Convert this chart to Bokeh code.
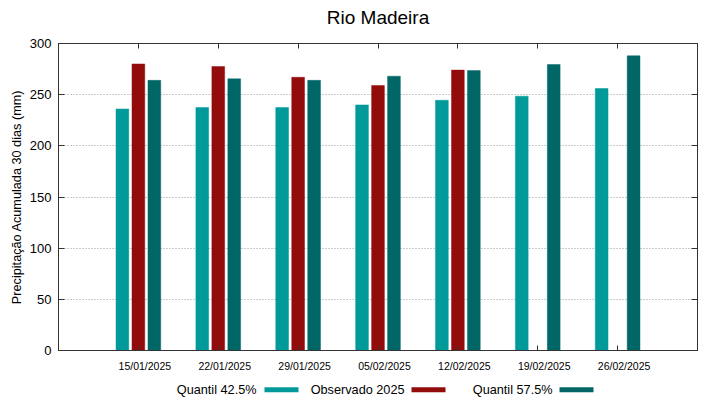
from bokeh.plotting import figure
from bokeh.layouts import column
from bokeh.models import (ColumnDataSource, Range1d, LinearAxis, FixedTicker)
from bokeh.core.properties import value
from bokeh.transform import dodge
from bokeh.embed import file_html
from bokeh.resources import INLINE

# ---- data ----
dates = ["15/01/2025", "22/01/2025", "29/01/2025", "05/02/2025",
         "12/02/2025", "19/02/2025", "26/02/2025"]
quantil_425 = [236, 237.5, 237.5, 240, 244.5, 248.5, 256]
observado_2025 = [280, 277.5, 267, 259, 274, float("nan"), float("nan")]
quantil_575 = [264, 265.5, 264, 268, 273.5, 279.5, 288]
y_ticks = [0, 50, 100, 150, 200, 250, 300]
series_labels = ["Quantil 42.5%", "Observado 2025", "Quantil 57.5%"]
series_colors = ["#009a9a", "#930c0c", "#006766"]
title_text = "Rio Madeira"

FONT = "Liberation Sans"
FRAME = "#333333"
W = 719
FL, FR = 58, 697          # frame left / right in page pixels
T_H, P_H, L_H = 36, 339, 24  # title strip, plot, legend strip heights

pos = list(range(len(dates)))          # category positions on the x scale
source = ColumnDataSource(dict(x=pos, date=dates, q425=quantil_425,
                               obs=observado_2025, q575=quantil_575))


def strip(height):
    f = figure(width=W, height=height, x_range=Range1d(FL, FR),
               y_range=Range1d(0, height), min_border_left=FL,
               min_border_right=W - FR, min_border_top=0, min_border_bottom=0,
               x_axis_location=None, y_axis_location=None, toolbar_location=None,
               output_backend="svg", outline_line_color=None)
    f.title = None
    f.grid.visible = False
    return f


# ---- title strip ----
tfig = strip(T_H)
tfig.text(x=[(FL + FR) / 2], y=[T_H - 16.5], text=[title_text], text_align="center",
          text_baseline="alphabetic", text_font=value(FONT), text_font_size="19px",
          text_color="#000000")

# ---- main plot ----
p = figure(x_range=Range1d(-1, len(dates)), y_range=Range1d(0, 300),
           width=W, height=P_H, output_backend="svg", toolbar_location=None,
           min_border_left=FL, min_border_right=W - FR, min_border_top=43 - T_H,
           min_border_bottom=T_H + P_H - 350)
p.title = None

fields = ["q425", "obs", "q575"]
offsets = [-0.2, 0.0, 0.2]
for f, off, col in zip(fields, offsets, series_colors):
    p.vbar(x=dodge("x", off, range=p.x_range), top=f, bottom=0, width=0.16,
           source=source, fill_color=col, line_color=col, line_alpha=0.45,
           line_width=1)

# grid
p.xgrid.grid_line_color = None
p.ygrid.ticker = FixedTicker(ticks=y_ticks)
p.ygrid.grid_line_color = "#9a9a9a"
p.ygrid.grid_line_dash = "1 2"
p.ygrid.grid_line_width = 1
p.outline_line_color = FRAME

# left axis
ya = p.yaxis[0]
ya.ticker = FixedTicker(ticks=y_ticks)
ya.axis_label = "Precipitação Acumulada 30 dias (mm)"
ya.axis_label_text_font = FONT
ya.axis_label_text_font_size = "12.7px"
ya.axis_label_text_font_style = "normal"
ya.axis_label_text_color = "#000000"
ya.axis_label_standoff = 3
ya.major_label_text_font = FONT
ya.major_label_text_font_size = "13px"
ya.major_label_text_color = "#000000"
ya.major_label_standoff = 7
ya.major_tick_in = 6
ya.major_tick_out = 0
ya.minor_tick_line_color = None
ya.axis_line_color = FRAME
ya.major_tick_line_color = FRAME

# bottom axis: inward ticks only (labels on a companion axis below)
xa = p.xaxis[0]
xa.ticker = FixedTicker(ticks=pos)
xa.major_label_overrides = {i: "" for i in pos}
xa.major_label_text_font_size = "1px"
xa.major_label_standoff = 0
xa.major_tick_in = 5
xa.major_tick_out = 0
xa.minor_tick_line_color = None
xa.axis_line_color = FRAME
xa.major_tick_line_color = FRAME

# tick labels, set slightly right of the ticks as in the reference
shift = 0.081
p.extra_x_ranges = {"labels": Range1d(-1 - shift, len(dates) - shift)}
label_axis = LinearAxis(x_range_name="labels", ticker=FixedTicker(ticks=pos),
                        major_label_overrides={i: d for i, d in zip(pos, dates)},
                        major_label_text_font=FONT, major_label_text_font_size="10.5px",
                        major_label_text_color="#000000", major_label_standoff=3,
                        major_tick_line_color=None, minor_tick_line_color=None,
                        axis_line_color=None)
p.add_layout(label_axis, "below")

# mirrored axes (ticks only)
top = LinearAxis(ticker=FixedTicker(ticks=pos), major_tick_in=5, major_tick_out=0,
                 minor_tick_line_color=None, axis_line_color=FRAME,
                 major_tick_line_color=FRAME, major_label_standoff=0,
                 major_label_overrides={i: "" for i in pos},
                 major_label_text_font_size="1px")
p.add_layout(top, "above")
right = LinearAxis(ticker=FixedTicker(ticks=y_ticks), major_tick_in=6,
                   major_tick_out=0, minor_tick_line_color=None,
                   axis_line_color=FRAME, major_tick_line_color=FRAME,
                   major_label_standoff=0,
                   major_label_overrides={t: "" for t in y_ticks},
                   major_label_text_font_size="1px")
p.add_layout(right, "right")

# ---- legend strip: label text followed by a colour sample ----
leg = strip(L_H)
text_right = [256, 404, 552]
sample_left = [264, 411, 559]
sample_w = 34
leg.text(x=text_right, y=[9.8] * 3, text=series_labels, text_align="right",
         text_baseline="alphabetic", text_font=value(FONT), text_font_size="12.7px",
         text_color="#000000")
leg.quad(left=sample_left, right=[s + sample_w for s in sample_left],
         bottom=[7.3] * 3, top=[12.3] * 3, fill_color=series_colors, line_color=None)

layout = column(tfig, p, leg, spacing=0)
open("out.html", "w").write(file_html(layout, INLINE))
